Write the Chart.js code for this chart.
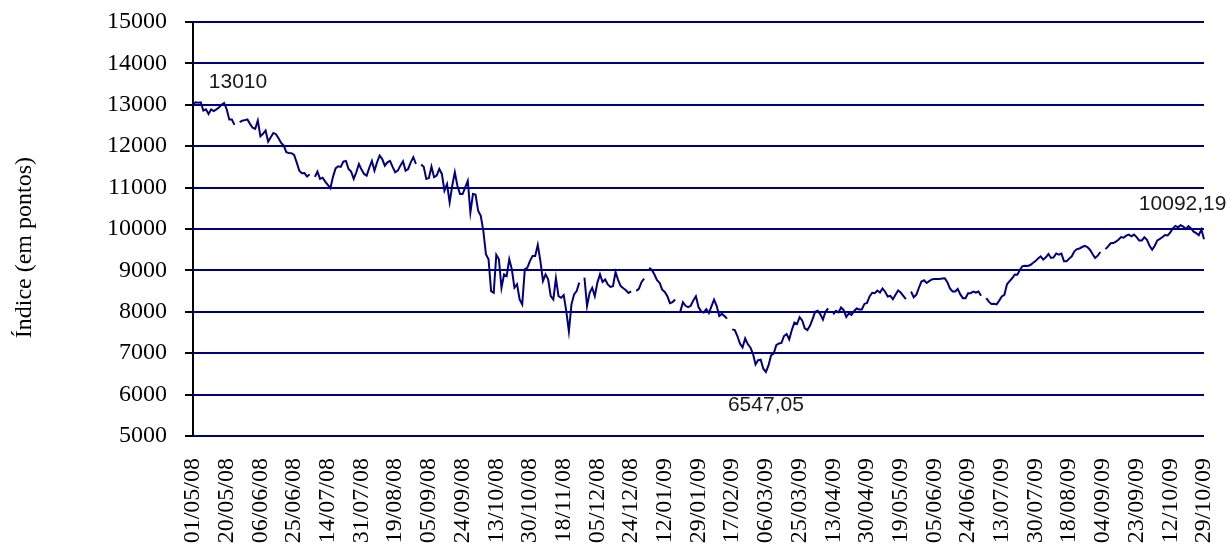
<!DOCTYPE html>
<html lang="pt">
<head>
<meta charset="utf-8">
<title>Índice (em pontos)</title>
<script src="https://cdn.jsdelivr.net/npm/chart.js@4/dist/chart.umd.min.js"></script>
<style>
  html, body { margin: 0; padding: 0; background: #ffffff; }
  #grafico { display: block; }
</style>
</head>
<body>
<canvas id="grafico" width="1228" height="552"></canvas>
<script>
// Daily closing index, one entry per weekday from 01/05/2008 to 29/10/2009 (null = no trading)
const indice = [
  13010,13060,13050,13060,12860,12890,12780,12890,12850,12890,
  12935,13000,13045,12890,12645,12645,12515,null,12580,12615,
  12630,12645,12540,12445,12420,12620,12240,12300,12380,12110,
  12215,12320,12290,12190,12080,12015,11855,11835,11830,11790,
  11610,11405,11345,11350,11265,11320,null,11260,11385,11210,
  11240,11145,11065,10985,11260,11465,11515,11500,11630,11645,
  11450,11385,11210,11370,11570,11435,11330,11290,11480,11645,
  11410,11610,11775,11690,11530,11610,11645,11500,11370,11410,
  11530,11635,11410,11450,11610,11735,11570,null,11555,11505,
  11210,11230,11505,11250,11290,11450,11330,10925,11085,10645,
  11045,11370,11045,10845,10845,11005,11165,10400,10845,10830,
  10440,10320,9955,9390,9270,8500,8460,9375,9270,8580,
  8905,8865,9270,9025,8580,8665,8300,8180,9025,9065,
  9230,9350,9350,9615,9230,8745,8905,8785,8380,8300,
  8810,8380,8340,8405,8015,7530,8180,8420,8500,8705,
  null,8825,8140,8460,8580,8380,8705,8905,8720,8780,
  8660,8600,8620,8960,8765,8620,8570,8520,8455,8495,
  null,8505,8555,8715,8800,null,9065,9010,8900,8765,
  8700,8535,8480,8375,8210,8235,8295,null,8010,8230,
  8145,8115,8145,8275,8375,8115,8010,7985,8065,7970,
  8130,8295,8145,7900,7950,7900,7835,null,7575,7560,
  7415,7235,7140,7360,7220,7140,6990,6730,6830,6845,
  6625,6547.05,6705,6950,6990,7195,7235,7250,7415,7465,
  7335,7560,7740,7705,7870,7790,7600,7560,7660,7825,
  8000,8025,7940,7810,8000,8080,null,7940,8025,7985,
  8105,8040,7875,7960,7925,8015,8080,8055,8055,8190,
  8215,8370,8460,8450,8515,8465,8565,8485,8370,8385,
  8305,8410,8515,8465,8385,8305,null,8490,8350,8410,
  8575,8730,8760,8695,8740,8780,8795,8795,8795,8805,
  8810,8715,8565,8490,8490,8550,8420,8330,8330,8450,
  8450,8490,8465,8490,8385,null,8330,8245,8190,8195,
  8180,8270,8370,8410,8665,8740,8810,8900,8895,9015,
  9105,9115,9105,9130,9180,9225,9290,9340,9260,9315,
  9395,9300,9315,9410,9380,9405,9220,9220,9285,9340,
  9460,9515,9530,9565,9595,9565,9500,9395,9300,9355,
  9445,null,9515,9580,9655,9660,9695,9740,9805,9790,
  9840,9865,9825,9865,9805,9725,9725,9800,9740,9595,
  9500,9595,9725,9760,9805,9855,9845,9920,10015,10075,
  10040,10092.19,10060,10000,10070,10015,9935,9900,9850,9990,
  9750
];

// Dates printed under the axis (every 13th trading day)
const rotulosData = [
  '01/05/08','20/05/08','06/06/08','25/06/08','14/07/08','31/07/08','19/08/08','05/09/08',
  '24/09/08','13/10/08','30/10/08','18/11/08','05/12/08','24/12/08','12/01/09','29/01/09',
  '17/02/09','06/03/09','25/03/09','13/04/09','30/04/09','19/05/09','05/06/09','24/06/09',
  '13/07/09','30/07/09','18/08/09','04/09/09','23/09/09','12/10/09','29/10/09'
];
const passoRotulo = 13;

// Vertical axis range and step
const eixoY = { min: 5000, max: 15000, passo: 1000 };
const tituloY = 'Índice (em pontos)';

// Points that carry a value label: start, minimum and maximum
const destaques = [13010, 6547.05, 10092.19];

// Category list: every weekday between the first and last date
function diasUteis(inicio, fim) {
  const out = [];
  const d = new Date(inicio);
  while (d <= fim) {
    const w = d.getUTCDay();
    if (w !== 0 && w !== 6) {
      const dd = String(d.getUTCDate()).padStart(2, '0');
      const mm = String(d.getUTCMonth() + 1).padStart(2, '0');
      const yy = String(d.getUTCFullYear()).slice(2);
      out.push(dd + '/' + mm + '/' + yy);
    }
    d.setUTCDate(d.getUTCDate() + 1);
  }
  return out;
}
const categorias = diasUteis(new Date(Date.UTC(2008, 4, 1)), new Date(Date.UTC(2009, 9, 29)));

const NAVY = '#000080';
const serif = { family: '"Liberation Serif", "Times New Roman", serif', size: 24 };

function formatoBR(v) { return String(v).replace('.', ','); }

// Rotated title on the left of the value axis
const tituloEixo = {
  id: 'tituloEixo',
  afterDraw(chart) {
    const { ctx, chartArea } = chart;
    ctx.save();
    ctx.translate(25, chartArea.top + (chartArea.bottom - chartArea.top) * 0.545);
    ctx.rotate(-Math.PI / 2);
    ctx.font = '24px "Liberation Serif", "Times New Roman", serif';
    ctx.fillStyle = '#000';
    ctx.textAlign = 'center';
    ctx.textBaseline = 'middle';
    ctx.fillText(tituloY, 0, 0);
    ctx.restore();
  }
};

// Value labels next to the highlighted points
const rotulosValor = {
  id: 'rotulosValor',
  afterDatasetsDraw(chart) {
    const { ctx, scales } = chart;
    const desloc = [[45, -22], [0, 33], [2, -21]];
    ctx.save();
    ctx.font = '21px "Liberation Sans", Arial, sans-serif';
    ctx.fillStyle = '#1a1a1a';
    ctx.textAlign = 'center';
    ctx.textBaseline = 'middle';
    destaques.forEach((v, k) => {
      const i = indice.indexOf(v);
      const px = scales.x.getPixelForValue(i);
      const py = scales.y.getPixelForValue(v);
      ctx.fillText(formatoBR(v), px + desloc[k][0], py + desloc[k][1]);
    });
    ctx.restore();
  }
};

new Chart(document.getElementById('grafico'), {
  type: 'line',
  data: {
    labels: categorias,
    datasets: [{
      label: tituloY,
      data: indice,
      borderColor: NAVY,
      borderWidth: 2,
      pointRadius: 0,
      tension: 0,
      spanGaps: false,
      fill: false
    }]
  },
  options: {
    responsive: false,
    animation: false,
    layout: { padding: { top: 22, right: 24, left: 0, bottom: 0 } },
    plugins: { legend: { display: false }, tooltip: { enabled: false } },
    scales: {
      x: {
        grid: { display: false, drawTicks: false },
        border: { display: false },
        ticks: {
          autoSkip: false,
          minRotation: 90,
          maxRotation: 90,
          padding: 22,
          color: '#000',
          font: serif,
          callback: (v, i) => (i % passoRotulo === 0 ? rotulosData[i / passoRotulo] : null)
        },
        afterFit: s => {
          s.height = 116;
          s.paddingLeft = 0;
          s.paddingRight = 0;
        }
      },
      y: {
        min: eixoY.min,
        max: eixoY.max,
        ticks: {
          stepSize: eixoY.passo,
          padding: 18,
          color: '#000',
          font: serif,
          callback: v => String(v)
        },
        grid: { color: NAVY, lineWidth: 2, tickColor: '#000', tickLength: 8, tickWidth: 2 },
        border: { color: '#000', width: 2 },
        afterFit: s => {
          s.width = 193;
          s.paddingTop = 0;
          s.paddingBottom = 0;
        }
      }
    }
  },
  plugins: [tituloEixo, rotulosValor]
});
</script>
</body>
</html>
